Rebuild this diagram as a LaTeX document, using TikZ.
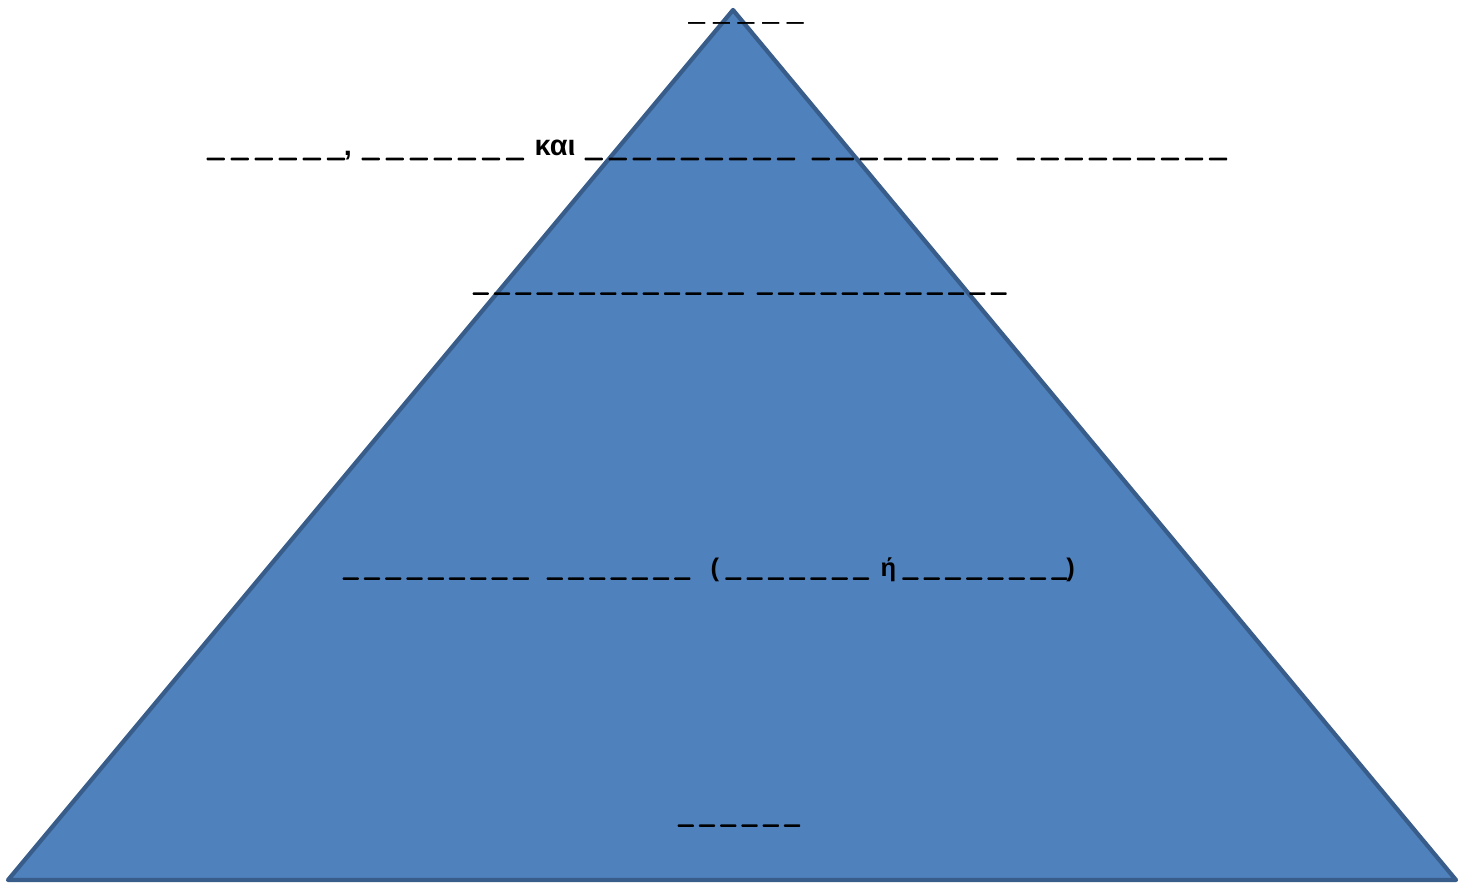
\documentclass[tikz,border=0pt]{standalone}
\usepackage{fontspec}
\setmainfont{Liberation Sans}
\newfontfamily\blfont[FakeBold=6]{Liberation Sans}
\definecolor{pyrblue}{RGB}{79,129,189}
\definecolor{pyredge}{RGB}{56,93,138}
\newcommand{\bl}[1]{{\blfont\foreach \k in {1,...,#1}{\ifnum\k>1\relax\space\fi\_}}}

\begin{document}
\begin{tikzpicture}[x=0.01cm,y=-0.01cm,line join=round,
    blank/.style={font=\bfseries\fontsize{7.25}{9}\selectfont,inner sep=0pt,anchor=base west},
    bigblank/.style={blank,font=\bfseries\fontsize{8.2}{10}\selectfont},
    thinblank/.style={blank,font=\fontsize{8.4}{10}\selectfont}]
    \useasboundingbox (0,0) rectangle (1458,882);

    % Pirámide
    \fill[pyrblue,draw=pyredge,line width=1.2pt] (733,10) -- (1456,880) -- (8,880) -- cycle;

    % Vértice
    \node[thinblank] (top) at (688,19) {\foreach \k in {1,...,5}{\ifnum\k>1\relax\space\fi\_}};

    % Segundo nivel
    \node[bigblank] (l2a) at (207,156) {\bl{6},};
    \node[bigblank] (l2b) at (362,156) {\bl{7}};
    \node[bigblank] (l2and) at (534,156) {και};
    \node[bigblank] (l2c) at (585,156) {\bl{9}};
    \node[bigblank] (l2d) at (812,156) {\bl{8}};
    \node[bigblank] (l2e) at (1017,156) {\bl{9}};

    % Tercer nivel
    \node[blank] (l3a) at (473,291) {\bl{13}};
    \node[blank] (l3b) at (757,291) {\bl{12}};

    % Cuarto nivel
    \node[blank] (l4a) at (343,576) {\bl{9}};
    \node[blank] (l4b) at (547,576) {\bl{7}};
    \node[blank] (l4c) at (710,576) {( \bl{7}};
    \node[blank] (l4or) at (880,576) {ή \bl{8})};

    % Base
    \node[blank] (base) at (678,823) {\bl{6}};
\end{tikzpicture}
\end{document}
